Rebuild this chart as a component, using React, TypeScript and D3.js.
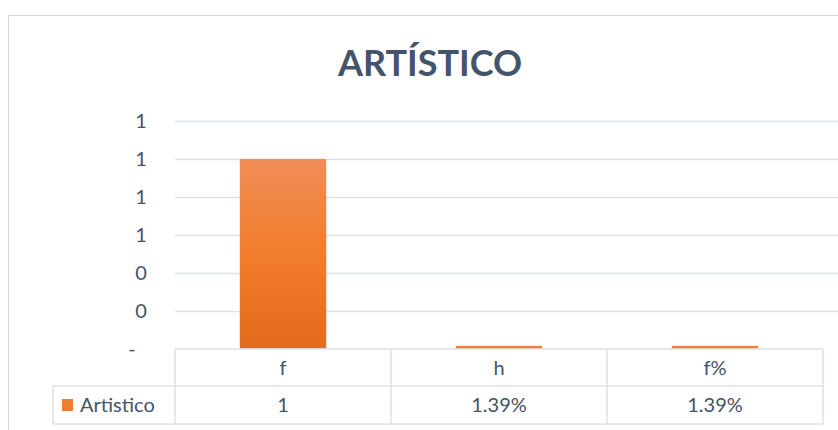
import React from "react";
import * as d3 from "d3";

const title = "ARTÍSTICO";
const categories = ["f", "h", "f%"];
const seriesName = "Artistico";
const values = [1, 0.0139, 0.0139];
const tableLabels = ["1", "1.39%", "1.39%"];
const yTicks = [0, 0.2, 0.4, 0.6, 0.8, 1.0, 1.2];

const W = 838;
const H = 430;
const FONT = "Lato, 'Open Sans', sans-serif";
const TEXT = "#44546A";
const GRID = "#DDE1E6";
const LABEL_SIZE = 20;

export default function App() {
  const plotLeft = 175;
  const tableRight = 823;
  const y = d3.scaleLinear().domain([0, 1.2]).range([348.5, 121]);
  const x = d3.scaleBand<string>().domain(categories).range([plotLeft, tableRight]).padding(0);
  const bw = x.bandwidth() * 0.4;
  const fmt = (v: number) => (v === 0 ? "-" : d3.format(",.0f")(v));

  const headTop = 349;
  const rowMid = 386;
  const rowBot = 424;
  const legendLeft = 53;

  return (
    <div style={{ position: "absolute", left: 0, top: 0 }}>
      <svg width={W} height={H} style={{ display: "block", background: "#fff" }}>
        <defs>
          <linearGradient id="barGrad" x1="0" y1="0" x2="0" y2="1">
            <stop offset="0%" stopColor="#F08D58" />
            <stop offset="50%" stopColor="#F27D2C" />
            <stop offset="100%" stopColor="#E46A1C" />
          </linearGradient>
        </defs>
        <rect x={8.5} y={15.5} width={W} height={H} fill="none" stroke="#D9D9D9" />
        <text
          x={430}
          y={76}
          textAnchor="middle"
          fontFamily={FONT}
          fontWeight={700}
          fontSize={36}
          fill={TEXT}
        >
          {title}
        </text>
        {yTicks.filter((t) => t > 0).map((t) => (
          <line key={t} x1={plotLeft} x2={W} y1={Math.round(y(t)) + 0.5} y2={Math.round(y(t)) + 0.5} stroke={GRID} strokeWidth={1.5} />
        ))}
        {yTicks.map((t) => (
          <text
            key={"l" + t}
            x={t === 0 ? 132 : 141}
            y={y(t)}
            dy="0.35em"
            textAnchor="middle"
            fontFamily={FONT}
            fontSize={LABEL_SIZE}
            fill={TEXT}
          >
            {fmt(t)}
          </text>
        ))}
        {categories.map((c, i) => (
          <rect
            key={c}
            x={(x(c) as number) + (x.bandwidth() - bw) / 2}
            y={y(values[i])}
            width={bw}
            height={y(0) - y(values[i])}
            fill="url(#barGrad)"
          />
        ))}
        <g stroke={GRID} strokeWidth={1.5} fill="none">
          <line x1={plotLeft} x2={tableRight} y1={headTop} y2={headTop} />
          <line x1={legendLeft} x2={tableRight} y1={rowMid} y2={rowMid} />
          <line x1={legendLeft} x2={tableRight} y1={rowBot} y2={rowBot} />
          <line x1={legendLeft} x2={legendLeft} y1={rowMid} y2={rowBot} />
          {[...categories.map((c) => x(c) as number), tableRight].map((xx, i) => (
            <line key={i} x1={xx} x2={xx} y1={headTop} y2={rowBot} />
          ))}
        </g>
        {categories.map((c, i) => (
          <g key={"t" + c}>
            <text
              x={(x(c) as number) + x.bandwidth() / 2}
              y={(headTop + rowMid) / 2}
              dy="0.35em"
              textAnchor="middle"
              fontFamily={FONT}
              fontSize={LABEL_SIZE}
              fill={TEXT}
            >
              {c}
            </text>
            <text
              x={(x(c) as number) + x.bandwidth() / 2}
              y={(rowMid + rowBot) / 2}
              dy="0.35em"
              textAnchor="middle"
              fontFamily={FONT}
              fontSize={LABEL_SIZE}
              fill={TEXT}
            >
              {tableLabels[i]}
            </text>
          </g>
        ))}
        <rect x={62} y={399} width={11} height={12} fill="#ED7D31" />
        <text x={80} y={(rowMid + rowBot) / 2} dy="0.35em" fontFamily={FONT} fontSize={LABEL_SIZE} fill={TEXT}>
          {seriesName}
        </text>
      </svg>
    </div>
  );
}
